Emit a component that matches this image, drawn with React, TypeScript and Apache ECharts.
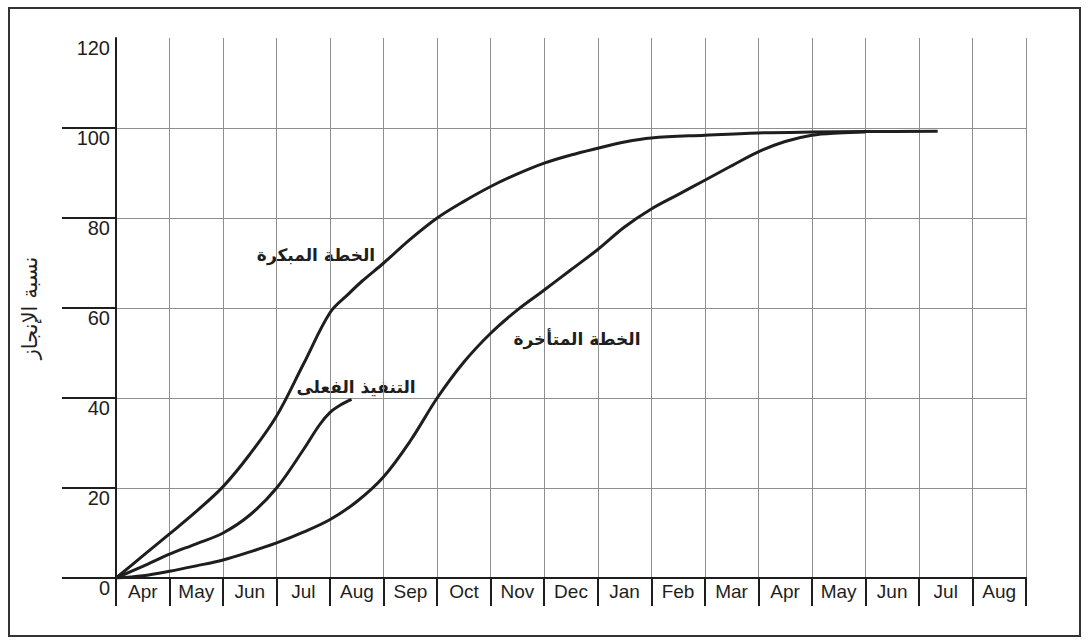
import { useEffect, useRef } from "react";
import * as echarts from "echarts";

const months = ["Apr", "May", "Jun", "Jul", "Aug", "Sep", "Oct", "Nov", "Dec", "Jan", "Feb", "Mar", "Apr", "May", "Jun", "Jul", "Aug"];
const yTickValues = [0, 20, 40, 60, 80, 100];

// [month offset from start of first Apr, completion %]
const earlyPlan = [[0, 0], [0.5, 4.9], [1, 9.8], [1.5, 14.8], [2, 20.3], [2.5, 27.5], [3, 36], [3.5, 47.5], [4, 59], [4.35, 63.2], [4.6, 66], [5, 70], [5.5, 75.3], [6, 80], [6.5, 83.7], [7, 87], [7.5, 89.8], [8, 92.2], [8.5, 94], [9, 95.5], [9.5, 96.9], [10, 97.8], [11, 98.4], [12, 98.9], [13, 99.1], [14, 99.2], [15.35, 99.3]];
const actualProgress = [[0, 0], [0.5, 2.6], [1, 5.3], [1.5, 7.6], [2, 10], [2.5, 14], [3, 20], [3.5, 28.5], [3.8, 34], [4, 36.8], [4.2, 38.5], [4.4, 39.7]];
const latePlan = [[0, 0], [0.5, 0.5], [1, 1.5], [1.5, 2.7], [2, 4], [2.5, 5.8], [3, 7.8], [3.5, 10.2], [4, 13], [4.5, 17], [5, 22.5], [5.5, 30.5], [6, 40], [6.5, 48], [7, 54.4], [7.5, 59.6], [8, 64], [8.5, 68.5], [9, 73], [9.5, 78], [10, 82], [10.5, 85.2], [11, 88.4], [11.5, 91.6], [12, 94.7], [12.5, 97], [13, 98.4], [13.5, 98.9], [14, 99.1]];

const seriesNames = ["الخطة المبكرة", "التنفيذ الفعلى", "الخطة المتأخرة"];
const yTitle = "نسبة الإنجاز";

export default function App() {
  const ref = useRef<HTMLDivElement>(null);
  useEffect(() => {
    if (!ref.current) return;
    const chart = echarts.init(ref.current, undefined, { renderer: "svg" });
    const ink = "#1e1e1e";
    const gridColor = "#8f8f8f";
    const lineSeries = (name: string, data: number[][]) => ({
      name,
      type: "line",
      xAxisIndex: 0,
      data,
      smooth: 0.35,
      showSymbol: false,
      lineStyle: { color: ink, width: 3 },
    });
    const labelFont = 'bold 17px "DejaVu Sans"';
    chart.setOption({
      animation: false,
      backgroundColor: "#ffffff",
      grid: { left: 116, top: 38, right: 66, bottom: 65 },
      xAxis: [
        {
          type: "value",
          min: 0,
          max: 17,
          interval: 1,
          position: "bottom",
          axisLine: { show: false },
          axisTick: { show: false },
          axisLabel: { show: false },
          splitLine: { show: true, lineStyle: { color: gridColor, width: 1 } },
        },
        {
          type: "category",
          data: months,
          position: "bottom",
          boundaryGap: true,
          axisLine: { show: true, lineStyle: { color: ink, width: 2 } },
          axisTick: { show: true, length: 28, lineStyle: { color: ink, width: 2 } },
          axisLabel: { color: ink, fontSize: 19, margin: 4, fontFamily: "Liberation Sans", interval: 0 },
          splitLine: { show: false },
        },
      ],
      yAxis: {
        type: "value",
        min: 0,
        max: 120,
        interval: 20,
        axisLine: { show: true, lineStyle: { color: ink, width: 2 } },
        axisTick: { show: true, length: 54, lineStyle: { color: ink, width: 2 }, customValues: yTickValues },
        axisLabel: { color: ink, fontSize: 20, margin: 6, verticalAlign: "top", fontFamily: "Liberation Sans" },
        splitLine: { show: true, lineStyle: { color: gridColor, width: 1 } },
        name: yTitle,
        nameLocation: "middle",
        nameGap: 76,
        nameRotate: 90,
        nameTextStyle: { color: ink, fontSize: 21, fontFamily: "DejaVu Sans" },
      },
      series: [
        lineSeries(seriesNames[0], earlyPlan),
        lineSeries(seriesNames[1], actualProgress),
        lineSeries(seriesNames[2], latePlan),
      ],
      graphic: [
        {
          type: "rect",
          shape: { x: 9, y: 8, width: 1071, height: 628 },
          style: { fill: "none", stroke: "#333", lineWidth: 2 },
          silent: true,
        },
        {
          type: "text",
          x: 316,
          y: 255,
          style: { text: seriesNames[0], fill: ink, font: labelFont, align: "center", verticalAlign: "middle" },
        },
        {
          type: "text",
          x: 356,
          y: 387,
          style: { text: seriesNames[1], fill: ink, font: labelFont, align: "center", verticalAlign: "middle" },
        },
        {
          type: "text",
          x: 577,
          y: 339,
          style: { text: seriesNames[2], fill: ink, font: labelFont, align: "center", verticalAlign: "middle" },
        },
      ],
    });
    return () => chart.dispose();
  }, []);
  return (
    <div
      ref={ref}
      style={{ position: "absolute", left: 0, top: 0, width: 1092, height: 643, background: "#fff" }}
    />
  );
}
